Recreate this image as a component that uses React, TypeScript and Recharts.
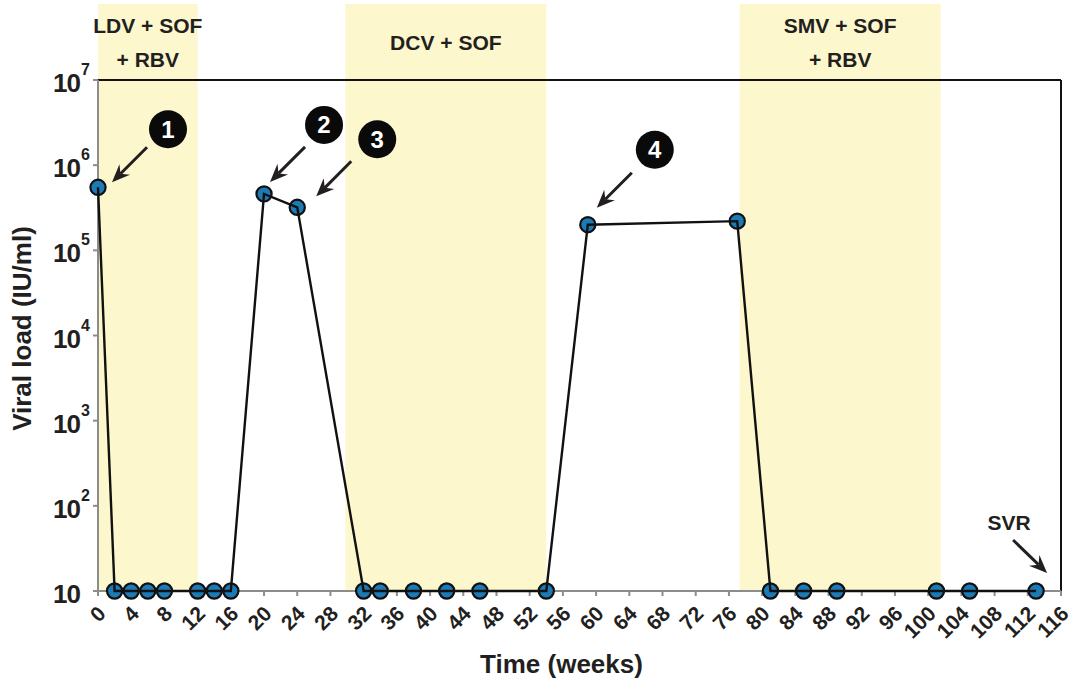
import React from "react";
import { ComposedChart, Line, XAxis, YAxis, ReferenceArea, ReferenceDot, ReferenceLine } from "recharts";

// weeks since start, viral load (IU/ml)
const weeks = [0, 2, 4, 6, 8, 12, 14, 16, 20, 24, 32, 34, 38, 42, 46, 54, 59, 77, 81, 85, 89, 101, 105, 113];
const viralLoad = [
  5.5e5, 10, 10, 10, 10, 10, 10, 10, 4.6e5, 3.2e5, 10, 10, 10, 10, 10, 10, 2.0e5, 2.2e5, 10, 10, 10, 10, 10, 10,
];

// treatment periods
const regimenLines = [["LDV + SOF", "+ RBV"], ["DCV + SOF"], ["SMV + SOF", "+ RBV"]];
const regimenStart = [0, 29.8, 77.3];
const regimenEnd = [12, 54, 101.5];

const xTicks = [0, 4, 8, 12, 16, 20, 24, 28, 32, 36, 40, 44, 48, 52, 56, 60, 64, 68, 72, 76, 80, 84, 88, 92, 96, 100, 104, 108, 112, 116];
const yTicks = [10, 100, 1e3, 1e4, 1e5, 1e6, 1e7];
const yExponents = ["", "2", "3", "4", "5", "6", "7"];

// numbered callouts point at these samples
const markerIndex = [0, 8, 9, 16];
const markerLabels = ["1", "2", "3", "4"];
const svrIndex = 23;
const svrLabel = "SVR";

const FONT = "'Liberation Sans', Arial, Helvetica, sans-serif";
const INK = "#231f20";
const GRAY = "#8c8c8c";
const BAND = "#fcf7cd";

// pixel offsets of each callout from its point: circle centre and arrow tail
const markerLayout = [
  { cx: 70, cy: -58, tx: 49, ty: -40 },
  { cx: 60, cy: -69, tx: 41, ty: -47 },
  { cx: 80, cy: -68, tx: 54, ty: -46 },
  { cx: 67, cy: -75, tx: 44, ty: -52 },
];

const data = weeks.map((w, i) => ({ week: w, load: viralLoad[i] }));

function Arrow({ x1, y1, x2, y2 }: { x1: number; y1: number; x2: number; y2: number }) {
  const a = Math.atan2(y2 - y1, x2 - x1);
  const ux = Math.cos(a);
  const uy = Math.sin(a);
  const len = 18;
  const half = 7.5;
  const notch = 12;
  const bx = x2 - ux * len;
  const by = y2 - uy * len;
  const nx = x2 - ux * notch;
  const ny = y2 - uy * notch;
  const d = `M${x2},${y2} L${bx - uy * half},${by + ux * half} L${nx},${ny} L${bx + uy * half},${by - ux * half} Z`;
  return (
    <g>
      <line x1={x1} y1={y1} x2={nx} y2={ny} stroke={INK} strokeWidth={3} />
      <path d={d} fill={INK} />
    </g>
  );
}

const XTick = (props: any) => {
  const { x, y, payload } = props;
  const px = x + 9;
  const py = y + 19;
  return (
    <text
      x={px}
      y={py}
      transform={`rotate(-45 ${px} ${py})`}
      textAnchor="end"
      fontFamily={FONT}
      fontWeight="bold"
      fontSize={21}
      fill={INK}
    >
      {payload.value}
    </text>
  );
};

const YTick = (props: any) => {
  const { x, y, payload, index } = props;
  const exp = yExponents[index] ?? "";
  return (
    <g>
      <text x={x - 13} y={y + 12} textAnchor="end" fontFamily={FONT} fontWeight="bold" fontSize={26} fill={INK} letterSpacing={-1}>
        10
      </text>
      {exp && (
        <text x={x - 12} y={y - 5} textAnchor="start" fontFamily={FONT} fontWeight="bold" fontSize={16} fill={INK}>
          {exp}
        </text>
      )}
    </g>
  );
};

const Dot = (props: any) => {
  const { cx, cy, index } = props;
  return <circle key={index} cx={cx} cy={cy} r={7.6} fill="#1c7bb6" stroke="#111" strokeWidth={2.2} />;
};

export default function App() {
  return (
    <div style={{ position: "absolute", left: 0, top: 0, width: 1078, height: 684, background: "#fff" }}>
      <ComposedChart width={1078} height={684} data={data} margin={{ top: 80, right: 17, bottom: 0, left: 0 }}>
        {regimenStart.map((s, i) => (
          <ReferenceArea
            key={`band-${i}`}
            x1={s}
            x2={regimenEnd[i]}
            y1={10}
            y2={7.8e7}
            ifOverflow="visible"
            fill={BAND}
            fillOpacity={1}
            stroke="none"
            label={(p: any) => {
              const vb = p.viewBox;
              const cx = vb.x + vb.width / 2;
              const lines = regimenLines[i];
              return (
                <g>
                  {lines.map((t, k) => (
                    <text
                      key={k}
                      x={cx}
                      y={vb.y + (lines.length === 1 ? 46 : 29 + k * 34)}
                      textAnchor="middle"
                      fontFamily={FONT}
                      fontWeight="bold"
                      fontSize={21}
                      fill={INK}
                    >
                      {t}
                    </text>
                  ))}
                </g>
              );
            }}
          />
        ))}
        <ReferenceLine y={1e7} stroke="#111" strokeWidth={2} ifOverflow="visible" />
        <ReferenceLine x={116} stroke="#111" strokeWidth={2} ifOverflow="visible" />
        <XAxis
          dataKey="week"
          type="number"
          domain={[0, 116]}
          ticks={xTicks}
          interval={0}
          height={93}
          tickSize={5}
          tickMargin={0}
          axisLine={{ stroke: GRAY, strokeWidth: 2 }}
          tickLine={{ stroke: GRAY, strokeWidth: 2 }}
          tick={(p: any) => <XTick {...p} />}
          label={(p: any) => {
            const vb = p.viewBox;
            return (
              <text x={vb.x + vb.width / 2 - 18} y={vb.y + 82} textAnchor="middle" fontFamily={FONT} fontWeight="bold" fontSize={26} fill={INK}>
                Time (weeks)
              </text>
            );
          }}
        />
        <YAxis
          type="number"
          scale="log"
          domain={[10, 1e7]}
          ticks={yTicks}
          interval={0}
          width={98}
          tickSize={5}
          tickMargin={0}
          axisLine={{ stroke: GRAY, strokeWidth: 2 }}
          tickLine={{ stroke: GRAY, strokeWidth: 2 }}
          tick={(p: any) => <YTick {...p} />}
          label={(p: any) => {
            const vb = p.viewBox;
            const x = vb.x + 31;
            const y = vb.y + vb.height / 2 - 7;
            return (
              <text x={x} y={y} transform={`rotate(-90 ${x} ${y})`} textAnchor="middle" fontFamily={FONT} fontWeight="bold" fontSize={26} fill={INK}>
                Viral load (IU/ml)
              </text>
            );
          }}
        />
        <Line
          type="linear"
          dataKey="load"
          stroke="#111"
          strokeWidth={2.4}
          dot={(p: any) => <Dot {...p} />}
          activeDot={false}
          isAnimationActive={false}
          zIndex={600}
        />
        {markerIndex.map((idx, i) => (
          <ReferenceDot
            key={`m-${i}`}
            x={weeks[idx]}
            y={viralLoad[idx]}
            ifOverflow="visible"
            shape={(p: any) => {
              const L = markerLayout[i];
              const x0 = p.cx;
              const y0 = p.cy;
              return (
                <g>
                  <circle cx={x0 + L.cx} cy={y0 + L.cy} r={19} fill="#0a0a0a" />
                  <text
                    x={x0 + L.cx}
                    y={y0 + L.cy + 8.5}
                    textAnchor="middle"
                    fontFamily={FONT}
                    fontWeight="bold"
                    fontSize={24}
                    fill="#fff"
                  >
                    {markerLabels[i]}
                  </text>
                  <Arrow x1={x0 + L.tx} y1={y0 + L.ty} x2={x0 + L.tx - 35} y2={y0 + L.ty + 35} />
                </g>
              );
            }}
          />
        ))}
        <ReferenceDot
          x={weeks[svrIndex]}
          y={viralLoad[svrIndex]}
          ifOverflow="visible"
          shape={(p: any) => (
            <g>
              <text x={p.cx - 27} y={p.cy - 61} textAnchor="middle" fontFamily={FONT} fontWeight="bold" fontSize={21} fill={INK}>
                {svrLabel}
              </text>
              <Arrow x1={p.cx - 23} y1={p.cy - 51} x2={p.cx + 11} y2={p.cy - 18} />
            </g>
          )}
        />
      </ComposedChart>
    </div>
  );
}
